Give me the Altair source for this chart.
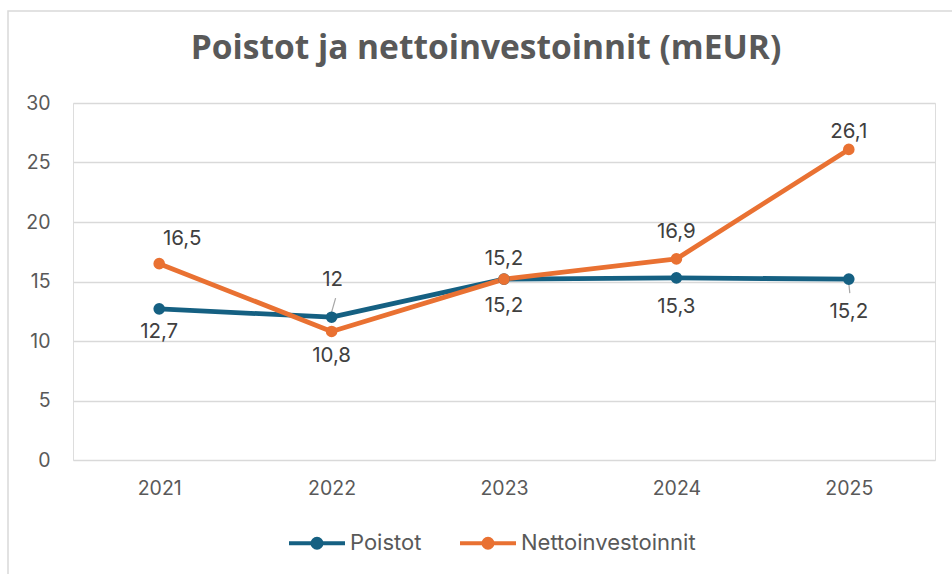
import altair as alt
import pandas as pd

years = ["2021", "2022", "2023", "2024", "2025"]
poistot = [12.7, 12.0, 15.2, 15.3, 15.2]
nettoinvestoinnit = [16.5, 10.8, 15.2, 16.9, 26.1]
series_names = ["Poistot", "Nettoinvestoinnit"]
colors = ["#156082", "#E97132"]
y_ticks = [0, 5, 10, 15, 20, 25, 30]
title_text = "Poistot ja nettoinvestoinnit (mEUR)"


def fmt(v):
    return f"{v:g}".replace(".", ",")


rows = []
for name, vals in zip(series_names, [poistot, nettoinvestoinnit]):
    for yr, v in zip(years, vals):
        rows.append({"year": yr, "value": v, "series": name, "label": fmt(v)})
df = pd.DataFrame(rows)

W, H = 862, 357
FONT = "Inter"
TXT = "#595959"
LBL = "#404040"
# line with a dot drawn only by strokes (two concentric rings fill the dot)
PATH = ("M-1,0L1,0"
        "M0.16,0A0.16,0.16,0,1,1,-0.16,0A0.16,0.16,0,1,1,0.16,0Z"
        "M0.07,0A0.07,0.07,0,1,1,-0.07,0A0.07,0.07,0,1,1,0.07,0Z")

x_enc = alt.X("year:N", sort=years,
              scale=alt.Scale(type="point", padding=0.5),
              axis=alt.Axis(title=None, labelAngle=0, ticks=False, domain=False,
                            labelPadding=19, labelFontSize=19.5, labelColor=TXT,
                            labelFont=FONT, grid=False))
y_enc = alt.Y("value:Q", scale=alt.Scale(domain=[0, 30], nice=False, zero=True),
              axis=alt.Axis(title=None, values=y_ticks, ticks=False, domain=False,
                            labelPadding=23, labelFontSize=19.5, labelColor=TXT,
                            labelFont=FONT, gridColor="#d9d9d9", gridWidth=1.3))
color_scale = alt.Scale(domain=series_names, range=colors)

legend = alt.Legend(
    title=None, orient="none", legendX=214, legendY=410, direction="horizontal",
    symbolType=PATH, symbolSize=3136, symbolStrokeWidth=4,
    labelFontSize=22, labelColor=TXT, labelFont=FONT, labelOffset=3,
    labelLimit=400, columnPadding=30, symbolOpacity=1,
)

base = alt.Chart(df)

lines = base.mark_line(strokeWidth=4.8, strokeCap="round", strokeJoin="round").encode(
    x=x_enc, y=y_enc,
    color=alt.Color("series:N", scale=color_scale, legend=legend),
    detail="series:N",
)

points = base.mark_point(filled=True, size=135, opacity=1).encode(
    x=x_enc, y=y_enc,
    color=alt.Color("series:N", scale=color_scale, legend=legend),
)

# leader lines
leader_specs = {
    ("Poistot", "2022"): dict(xOffset=0, yOffset=-5, x2Offset=4, y2Offset=-19),
    ("Poistot", "2025"): dict(xOffset=0, yOffset=4, x2Offset=1, y2Offset=14),
}
leaders = []
for (s, yr), off in leader_specs.items():
    leaders.append(
        base.transform_filter((alt.datum.series == s) & (alt.datum.year == yr))
        .mark_rule(color="#a6a6a6", strokeWidth=1.2, **off)
        .encode(x=x_enc, y=y_enc, x2=alt.X2("year:N"), y2=alt.Y2("value:Q"))
    )

label_pos = {
    ("Poistot", "2021"): (0, 23),
    ("Poistot", "2022"): (1, -37),
    ("Poistot", "2023"): (0, 27),
    ("Poistot", "2024"): (0, 29),
    ("Poistot", "2025"): (0, 33),
    ("Nettoinvestoinnit", "2021"): (23, -25),
    ("Nettoinvestoinnit", "2022"): (0, 25),
    ("Nettoinvestoinnit", "2023"): (0, -20),
    ("Nettoinvestoinnit", "2024"): (0, -27),
    ("Nettoinvestoinnit", "2025"): (0, -17),
}
labels = []
for (s, yr), (dx, dy) in label_pos.items():
    labels.append(
        base.transform_filter((alt.datum.series == s) & (alt.datum.year == yr))
        .mark_text(dx=dx, dy=dy, fontSize=20.5, font=FONT, color=LBL, baseline="middle", align="center")
        .encode(x=x_enc, y=y_enc, text="label:N")
    )

border = alt.Chart(alt.Data(values=[{"a": 1}])).mark_rect(
    fill="transparent", stroke="#d9d9d9", strokeWidth=1.5
).encode(x=alt.value(-65), x2=alt.value(W + 100), y=alt.value(-92), y2=alt.value(H + 200))

chart = alt.layer(border, lines, *leaders, points, *labels).properties(
    width=W, height=H,
    autosize=alt.AutoSizeParams(type="none"),
    padding={"left": 73, "top": 103, "right": 17, "bottom": 114},
    title=alt.TitleParams(title_text, fontSize=33.5, font="Open Sans", fontWeight="bold",
                          color=TXT, anchor="middle", baseline="alphabetic",
                          offset=-82, dx=-18),
).configure_view(stroke=None).configure(background="white")

chart.save("out.html", embed_options={"renderer": "svg", "actions": False})
